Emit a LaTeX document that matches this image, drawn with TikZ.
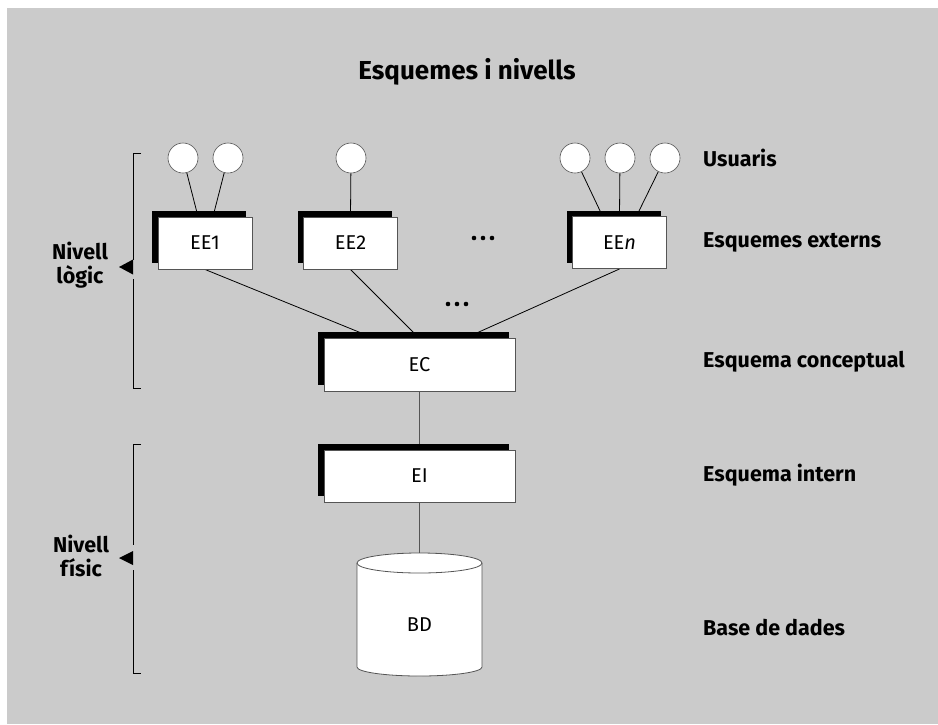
\documentclass[tikz,border=0pt]{standalone}
\usepackage{fontspec}
\setmainfont{Fira Sans}
\usetikzlibrary{shadows,calc}
\definecolor{bggray}{RGB}{203,203,203}
\definecolor{edge}{RGB}{85,85,85}
\pgfdeclarelayer{bgfill}
\pgfdeclarelayer{back}
\pgfsetlayers{bgfill,back,main}
\tikzset{
  schema/.style={draw=edge, line width=0.9pt, fill=white, minimum width=94pt, minimum height=52pt, inner sep=0pt,
    font=\fontsize{20}{22}\selectfont,
    general shadow={fill=black, shadow xshift=-6pt, shadow yshift=6pt}},
  bigschema/.style={schema, minimum width=191pt, minimum height=53pt},
  user/.style={circle, draw=edge, line width=0.6pt, fill=white, minimum size=30pt, inner sep=0pt},
  lbl/.style={anchor=west, font=\fontsize{21.5}{24}\selectfont\bfseries, inner sep=0pt},
  lvl/.style={align=center, font=\fontsize{21.5}{24}\selectfont\bfseries, inner sep=0pt},
  conn/.style={draw=black, line width=0.8pt},
  gconn/.style={draw=edge, line width=1pt},
  brk/.style={draw=black, line width=0.8pt},
  dot/.style={fill=black}
}
\begin{document}
\begin{tikzpicture}[x=1pt,y=-1pt]
\useasboundingbox (0,0) rectangle (938,724);
\begin{pgfonlayer}{bgfill}
\fill[white] (0,0) rectangle (938,724);
\fill[bggray] (7,8) rectangle (938,724);
\end{pgfonlayer}

\node[font=\fontsize{26}{28}\selectfont\bfseries] (title) at (467,72) {Esquemes i nivells};

% users
\node[user] (u1) at (183,158) {};
\node[user] (u2) at (228,158) {};
\node[user] (u3) at (351,158) {};
\node[user] (u4) at (575,158) {};
\node[user] (u5) at (620,158) {};
\node[user] (u6) at (665,158) {};

% schemas
\node[schema] (ee1) at (205,243) {EE1};
\node[schema] (ee2) at (350.5,243) {EE2};
\node[schema] (een) at (619.5,242.5) {EE\textit{n}};
\node[bigschema] (ec) at (419.5,364.5) {EC};
\node[bigschema, minimum height=52pt] (ei) at (419.5,476) {EI};

% database cylinder
\filldraw[fill=white, draw=edge, line width=0.8pt] (357,563) -- (357,667) arc[start angle=180, end angle=0, x radius=62.5, y radius=9] -- (482,563);
\filldraw[fill=white, draw=edge, line width=0.8pt] (419.5,563) ellipse[x radius=62.5, y radius=10];
\coordinate (bdtop) at (419.5,553);
\node[font=\fontsize{20}{22}\selectfont, inner sep=0pt] (bd) at (419.5,625) {BD};

% dots
\foreach \x in {474,483,492} \fill[dot] (\x,238) circle (2.3);
\foreach \x in {448,457,466} \fill[dot] (\x,304) circle (2.3);

% connectors
\begin{pgfonlayer}{back}
\draw[conn] (u1) -- ([xshift=-7pt]ee1.north);
\draw[conn] (u2) -- ([xshift=8pt]ee1.north);
\draw[conn] (u3) -- (ee2.north);
\draw[conn] (u4) -- ([xshift=-17pt]een.north);
\draw[conn] (u5) -- (een.north);
\draw[conn] (u6) -- ([xshift=17pt]een.north);
\draw[conn] (ee1.south) -- ([xshift=-47pt]ec.north);
\draw[conn] (ee2.south) -- ([xshift=-1pt]ec.north);
\draw[conn] (een.south) -- ([xshift=47pt]ec.north);
\draw[gconn] (ec.south) -- (ei.north);
\draw[gconn] (ei.south) -- (bdtop);
\end{pgfonlayer}

% right labels
\node[lbl] (lu) at (703,158) {Usuaris};
\node[lbl] (lee) at (703,242) {Esquemes externs};
\node[lbl] (lec) at (703,362) {Esquema conceptual};
\node[lbl] (lei) at (703,475) {Esquema intern};
\node[lbl] (lbd) at (703,628) {Base de dades};

% brackets
\draw[brk] (141,153) -- (133,153) -- (133,260);
\draw[brk] (133,279) -- (133,388) -- (141,388);
\fill (119,267) -- (133,259.5) -- (133,274.5) -- cycle;
\node[lvl] (nl) at (80,265) {Nivell\\lògic};

\draw[brk] (141,444) -- (133,444) -- (133,545);
\draw[brk] (133,570) -- (133,673) -- (141,673);
\fill (119,558) -- (133,551) -- (133,565) -- cycle;
\node[lvl] (nf) at (81,556) {Nivell\\físic};
\end{tikzpicture}
\end{document}
